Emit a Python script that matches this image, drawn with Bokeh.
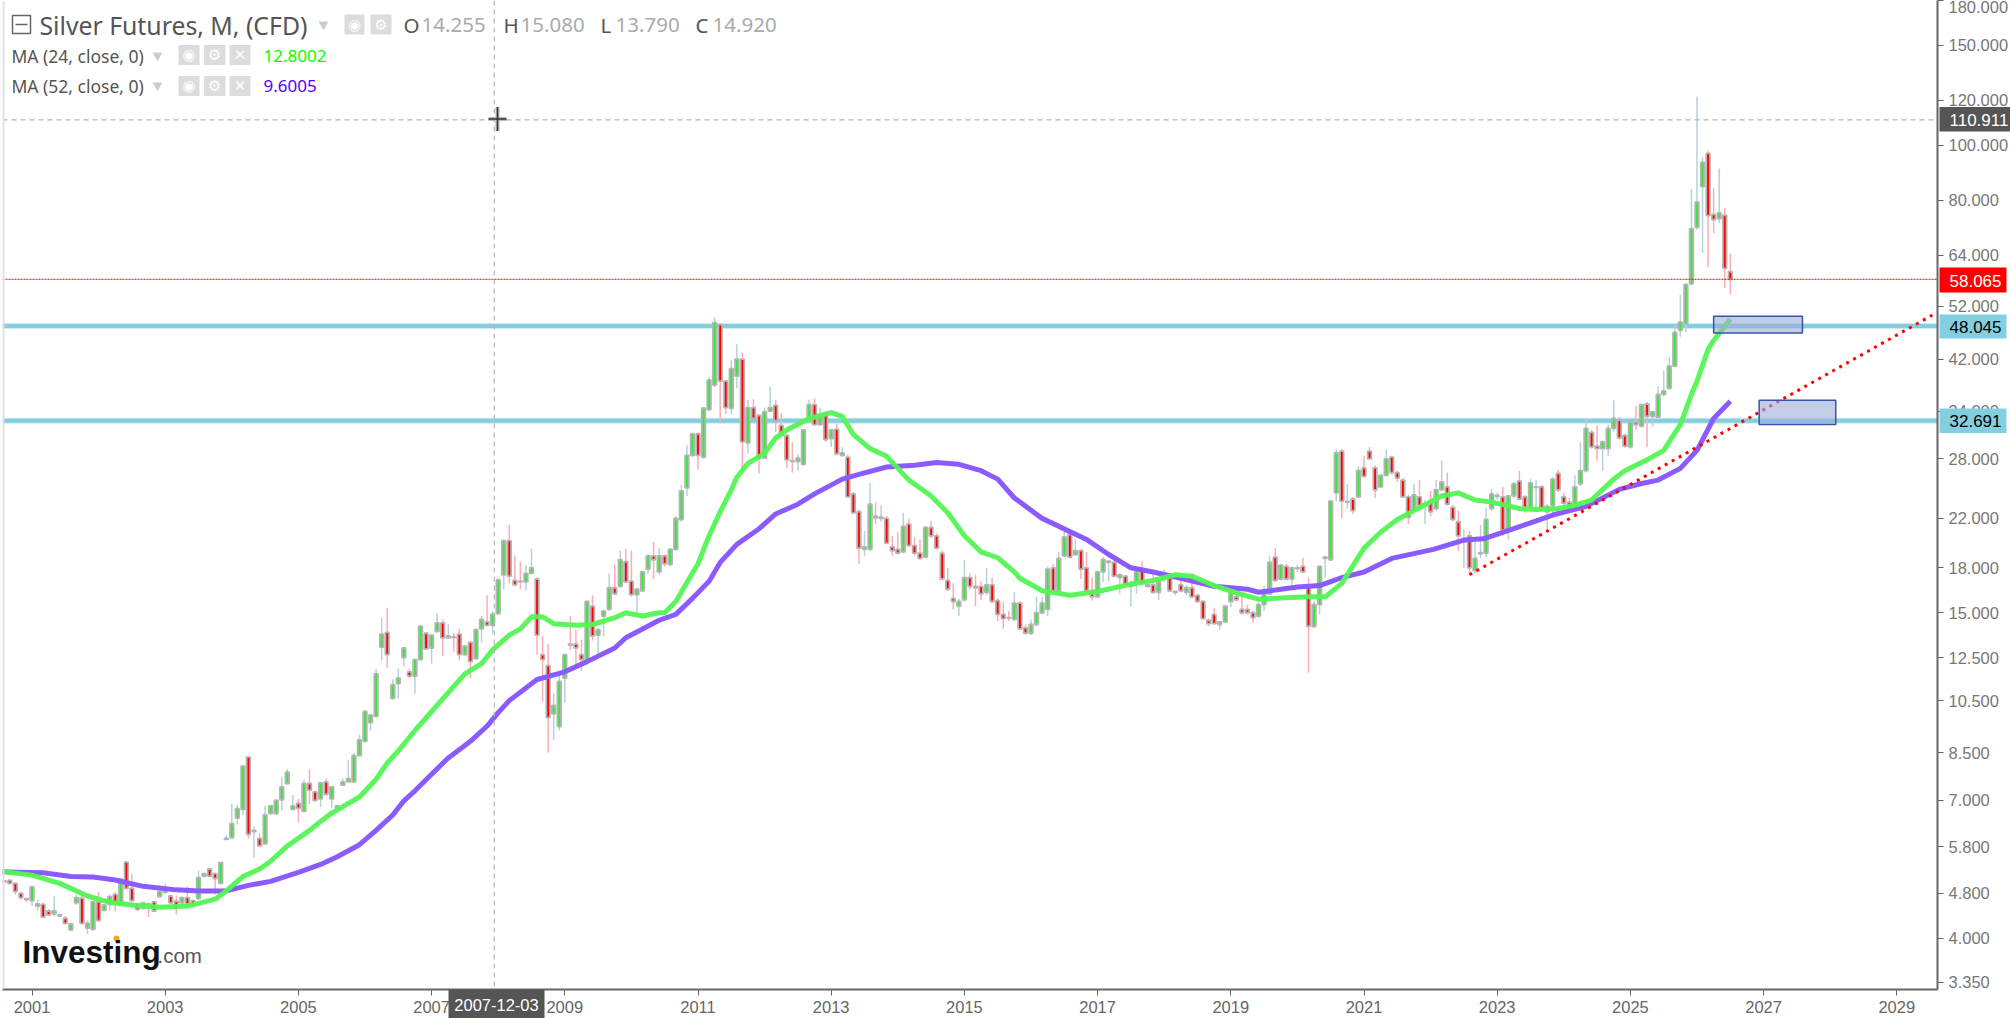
import math
from bokeh.plotting import figure
from bokeh.embed import file_html
from bokeh.resources import INLINE
from bokeh.layouts import column
from bokeh.models import Range1d, FixedTicker, Label, Span
from bokeh.models.labeling import AllLabels

# Monthly candles: first candle is 2000-08
opens = [5.05,5.06,5.0,4.8,4.7,4.66,4.56,4.59,4.47,4.42,4.40,4.34,4.14,4.62,4.71,4.17,4.15,4.64,4.48,4.59,
4.78,4.6,5.45,4.9,4.58,4.52,4.6,4.64,4.74,4.82,4.75,4.65,4.62,4.72,4.66,4.7,5.15,5.3,5.2,5.0,
5.98,6.02,6.52,6.75,8.35,6.17,6.0,5.87,6.64,6.64,7.02,7.5,6.75,6.92,6.7,7.5,7.25,7.05,7.55,7.05,
6.8,7.45,7.55,7.55,8.4,8.9,9.6,9.85,13.05,13.85,10.6,11.25,12.5,11.8,11.6,12.4,13.8,13,13.9,14.4,
13.55,13.6,13.75,12.65,13.3,12.45,14.05,14.45,14.255,14.95,17.5,20.1,17.1,17.05,17.0,17.6,17.2,12.65,12.1,9.95,
9.45,11.5,13.2,13.2,12.65,12.3,15.4,13.7,14.8,15.2,16.6,16.7,18.45,17.05,16.15,16.4,17.9,18.9,17.7,18.9,
18.25,19.4,21.9,24.9,28.4,31,28.2,34.2,37.8,48.3,38.4,34.4,39.2,42,29.9,34.5,33.4,28.1,34,34.8,
32.1,30.8,27.8,27.7,27.4,32.8,34.9,32.2,33.7,30.4,31.6,28.4,28.2,24.3,22.6,19.4,19.4,22.2,22,22,
19.6,19.4,19.2,21.5,19.7,19.1,18.8,21.2,20.5,19.1,17.1,15.9,15.4,15.8,17.3,16.7,16.7,16.3,16.8,15.75,
14.9,14.7,14.6,15.6,14.1,13.8,14.3,15,15.2,18,16.4,18.9,20.6,19,19.3,18,16.4,16,17.7,18.4,
18.4,17.3,17.4,16.7,16.9,17.95,16.7,16.8,16.3,17.2,17.4,16.3,16.8,16.3,16.6,16.1,15.7,14.55,14.9,14.3,
14.45,15.7,16,15.2,15.2,15,14.8,15.5,16.2,18.8,17.2,18.1,17.2,17.95,18.1,16.7,14.2,15.5,18.7,18.6,
24.4,28.9,23.5,23.8,24,27,28.9,27,25,26.2,28.2,26.5,25.7,24,22.7,24,23.3,23.6,22.9,24.7,
25,23,21.7,20,20.5,17.8,19.05,19.1,22.9,24.05,24,20.9,24.1,25.6,24,23,24.95,25,22.6,23.2,
26.4,24,23.5,23.2,25.3,26.7,31.2,29.5,29.2,29.2,31.7,32.8,30.8,29.4,32.5,32,35,33.3,33.2,36.4,
37.3,40.8,47.2,48.5,57,71.7,84.6,96.8,75.6,74.3,75.3,59.9]
highs = [5.07,5.08,5.02,4.83,4.72,4.95,4.68,4.62,4.5,4.75,4.42,4.38,4.26,4.78,4.78,4.3,4.66,4.83,4.6,4.78,
4.83,5.1,5.47,5.2,4.6,4.64,4.62,4.66,4.86,5.0,4.77,4.76,4.74,4.94,4.68,5.27,5.22,5.32,5.22,5.46,
6.08,6.9,6.88,8.08,8.38,6.3,6.12,6.85,6.88,7.03,7.7,7.95,7.15,7.05,7.6,7.95,7.28,7.55,7.65,7.42,
6.87,7.65,8.25,8.5,9.15,10.1,9.95,11.95,14.7,15.3,11.45,11.95,13.05,11.95,12.45,14.25,13.85,13.75,14.95,14.6,
14.3,13.8,14.05,13.15,13.35,14.05,14.8,16.1,15.08,17.2,20.2,21.45,18.95,18.45,18.2,19.45,17.3,13.65,13.2,10.8,
11.6,12.7,14.8,14.0,13.45,15.75,16.1,14.1,15.2,17.6,18.2,19.3,19.45,19.3,16.6,17.8,19.0,20,19.5,19,
19.5,22.2,25.2,29.6,31.2,31.2,34.6,39,49.8,48.6,38.6,41.8,44.6,43.1,35.6,35.7,33.6,34.5,37.5,35.6,
33.7,31,30,28.5,31.6,35.6,35.8,34.5,34,31.6,32.3,29.4,28.5,24.5,22.8,20.9,25.4,23.5,23.2,22.2,
20.5,20.8,22.5,22,20.4,20.2,21.3,21.8,20.7,19.3,18,16.9,15.9,18.6,17.6,17.5,17.05,18,17.3,15.9,
15.7,15.1,16.3,15.7,14.3,14.6,16,16,18.1,18.3,19.2,21.1,20.8,20.2,19.4,19.2,17.3,17.8,18.8,18.6,
18.7,17.6,17.5,17.1,18,18.5,16.9,17.6,17.1,17.9,17.6,16.4,17.6,16.8,17.6,16.2,15.75,14.6,15.3,14.5,
15.5,16.5,16.6,16.1,15.5,15.1,15.7,16.7,18.9,19.5,18.3,18.3,18.1,18.2,18.75,17.3,15.7,18.2,18.9,23.7,
29.1,29.1,25.3,24,27.2,28.3,29.4,27.3,26.4,29.1,28.4,26.7,25.9,24.2,25.3,25.7,23.7,24.6,25.7,27.8,
26.5,23.2,22.7,21,20.9,20,21.4,23,24.8,24.4,25,24.2,25.5,26.7,24.2,25.8,25.7,25.2,23.3,26,
26.8,24.4,23.9,26.2,30,32.8,31.5,32.1,30.2,32.2,35.5,33.2,31,32.6,34.7,35,35.3,34,37.6,40.1,
42.3,48.2,54.5,57.2,83.8,122,95.3,97.9,84,91,77.5,64.4]
lows = [5.02,4.98,4.78,4.68,4.64,4.56,4.48,4.35,4.38,4.37,4.36,4.23,4.12,4.58,4.23,4.07,4.13,4.28,4.46,4.48,
4.46,4.58,4.88,4.64,4.47,4.5,4.36,4.45,4.72,4.8,4.6,4.4,4.6,4.58,4.58,4.68,5.12,5.13,4.78,4.98,
5.96,5.98,6.35,6.6,6.0,5.55,5.8,5.85,6.62,6.62,6.72,7.48,6.73,6.4,6.68,6.9,6.98,6.82,7.15,6.8,
6.72,7.43,7.53,7.53,8.38,8.88,9.3,9.83,12.35,12.0,10.55,10.6,12.05,11.5,10.8,12.35,12.9,12.2,13.85,12.6,
13.5,12.8,12.35,12.6,11.5,12.4,13.3,14.2,13.79,14.9,16.5,16.9,16.7,16.5,16.4,17.55,12.65,10.45,8.5,8.95,
9.3,10.4,12.9,11.95,11.85,12.2,13.4,12.45,13.65,15.1,16.1,16.6,16.9,16.0,14.95,16.3,17.6,17.2,17.5,18.1,
18.1,19.3,21.7,24.1,28.2,26.8,28,34,37.5,32.5,33.6,33.6,37.3,26.5,28.65,32.9,26.4,28,33.9,31.2,
30.7,27,26.5,26.7,27.3,32.6,32,32,30,29.4,28.4,28.2,23.9,22.4,18.3,18.9,19.3,21.5,21.7,19.8,
18.9,19,19.1,19.6,18.9,18.6,18.7,20.3,19.4,17.1,16.4,15.2,14.8,15.7,16.5,15.4,15.8,16.1,15.6,14.5,
14.05,14.5,14.5,14,13.75,13.7,14.2,14.95,14.8,16.3,16.3,18.8,18.7,18.9,17.2,16.3,15.75,15.9,17.0,17,
17.3,16.2,16.7,15.4,16.2,16.8,16.6,16.2,15.8,17,16.3,16.1,16.3,16.1,15.9,15.6,14.6,14.2,14.3,14,
14.4,15.35,15.7,14.9,14.9,14.4,14.7,15.1,16.1,17,17.1,17.1,16.8,17.7,17.6,11.75,14.1,14.9,17.3,18.5,
23.6,22,22.9,22.4,23.9,26,27.9,23.9,24.9,26.1,26.3,25.5,23.9,21.5,22.6,23,21.5,22.2,22.7,24.6,
23.2,21.8,19.3,18,17.5,17.6,18.7,18.8,22.7,23.7,20.5,20.2,23.9,23.7,22.5,22.9,22.7,22.8,20.8,22.5,
24.5,22.5,22.5,23.1,25.1,26.5,29.2,27.8,26.7,28.3,31.3,30.3,29.3,29.2,31.5,31.8,29.4,31.9,33.1,36.1,
37.1,40.6,46,46.9,56.8,71,64.6,61,70,73,56.1,54.7]
closes = [5.03,5.0,4.84,4.72,4.68,4.93,4.6,4.36,4.4,4.47,4.38,4.25,4.24,4.72,4.25,4.25,4.64,4.3,4.58,4.74,
4.62,5.08,4.9,4.66,4.5,4.62,4.59,4.47,4.84,4.9,4.62,4.52,4.72,4.6,4.6,5.12,5.2,5.15,5.1,5.44,
6.0,6.37,6.77,8.05,6.1,6.2,5.82,6.6,6.85,7.0,7.4,7.85,6.85,6.78,7.5,7.3,7.0,7.52,7.18,7.4,
6.85,7.55,7.65,8.4,8.95,10.05,9.9,11.7,13.75,12.65,11.2,11.5,13,11.6,12.4,14.2,12.95,13.7,14.4,13.55,
13.65,13.58,12.65,13.1,12.3,14,14.6,14.25,14.92,17.15,20.1,17.4,16.8,17.0,17.6,18,13.7,12.4,9.8,10.3,
11.35,12.65,13.15,13.0,12.4,15.7,13.65,14,15.1,16.6,16.2,18.6,17,16.15,16.5,17.7,18.9,18.6,18.9,18.3,
19.4,22,24.6,28.4,31,28.4,34.4,38.6,48.7,38.4,34.5,40.4,42,30,34.5,33,28.1,33.9,34.5,32.7,
30.8,27.9,27.72,28.1,31.5,34.9,32.2,33.2,30.3,31.5,28.6,28.7,24,22.5,19.5,19.6,23.3,22.05,22.1,19.9,
19.3,19.1,21.3,19.7,19.1,18.7,21.2,20.5,19.5,17.2,16.5,15.7,15.7,17.3,16.7,16.6,16.2,16.8,15.7,14.9,
14.65,14.68,15.6,14.05,13.8,14.3,15,15.6,17.9,16.4,18.7,20.4,18.8,19.3,17.9,16.4,16,17.7,18.6,18.5,
17.4,17.5,16.8,16.9,17.7,16.9,16.8,16.3,17,17.3,16.4,16.35,16.4,16.6,16,15.7,14.65,14.35,14.35,14.45,
15.4,16.4,15.8,15,15,14.7,15.5,16.4,18.4,17.1,18.2,17.2,18,18,17.7,14.2,15.5,18.1,18.8,23.6,
28.7,23.6,23.55,22.7,26.7,26.1,28,24.7,26.2,28,26.5,25.9,24,22.1,24.2,23.2,23.35,22.6,24.7,25.5,
23.3,21.9,20.5,20.05,18,18.7,19.15,21.9,24.3,24.15,21,24.1,25.3,23.8,23,25.4,25,22.9,23.1,25.8,
24.7,23.4,23,25,26.7,31.7,29.4,29.2,30,31.7,33,30.5,29.5,32.5,32.2,34.9,33.3,33.9,36.4,36.9,
40.85,46.8,48.8,56.8,71.3,79.4,93.3,75.2,74,76,60.7,58.065]

# Moving averages: candle number and value
ma52_idx = [-0.4,2.3,7,12,16,20,25,31,35,40,44,48,53,57,60,64,67,70,72,74,77,80,84,87,89,91,96,101,105,110,112,118,121,124,127,129,132,136,139,143,146,151,154,159,164,168,172,176,179,182,187,195,199,203,207,212,218,224,226,233,237,241,245,250,257.5,263,266.5,272,279,285,291,295,298,302,305,308,311]
ma52_val = [5.24,5.23,5.22,5.14,5.13,5.07,4.94,4.87,4.85,4.85,4.96,5.04,5.23,5.4,5.57,5.85,6.2,6.6,6.99,7.28,7.79,8.32,8.9,9.47,10.0,10.5,11.44,11.8,12.3,13,13.55,14.55,14.9,15.9,17.05,18.4,19.8,21.1,22.4,23.3,24.3,25.8,26.3,27.1,27.3,27.6,27.4,26.7,25.8,23.9,22,20.2,19,18,17.7,17.25,16.7,16.5,16.3,16.65,16.75,17.3,17.7,18.7,19.4,20.15,20.25,21.1,22.3,23.1,24.75,25.35,25.7,26.95,29.0,33.0,35.4]
ma24_idx = [0,5,10,15,19,23,28,33,38,40,43,46,48,51,55,57,59,64,67,69,71,74,79,83,86,88,91,93,95,97,99,103,106,110,112,115,118,119,121,125,127,129,131,132,134,137,139,141,145,149,151,153,156,159,163,167,170,173,176,179,182,183,187,192,197,203,207,211,214,218,223,226,232,235,238,241,245,248,251,254,259,262,265,268,273,276,280,283,286,290,292,296,299,302,304,305,307,308,311]
ma24_val = [5.24,5.17,5.0,4.75,4.63,4.58,4.54,4.56,4.69,4.85,5.14,5.3,5.47,5.82,6.2,6.43,6.65,7.1,7.63,8.15,8.56,9.3,10.57,11.7,12.2,12.9,13.7,14.05,14.75,14.75,14.35,14.25,14.3,14.7,15.0,14.8,15,15,15.7,18.3,20.5,22.6,24.7,26,27.5,28.65,30.5,31.5,33,33.8,33.3,30.9,29.2,28.3,25.7,24.1,22.5,20.5,19.2,18.75,17.7,17.25,16.4,16.1,16.35,16.85,17.1,17.5,17.4,16.75,16.15,15.85,15.95,16,16,16.9,19.5,20.8,21.9,22.7,24.1,24.4,23.7,23.5,22.9,22.8,22.9,23.2,23.7,25.8,26.7,27.9,29,32.2,36.4,38.4,43.7,45.3,49.4]

level_values = [48.045, 32.691]
last_price = 58.065
cursor_price = 110.911
trend_idx = [264, 347.4]
trend_val = [17.5, 50.2]
box1_idx = [308.0, 324.0]
box1_val = [46.7, 50.0]
box2_idx = [316.2, 330.0]
box2_val = [32.2, 35.55]
cursor_idx = 88.3

y_ticks = [180,150,120,100,80,64,52,42,34,28,22,18,15,12.5,10.5,8.5,7,5.8,4.8,4,3.35]
x_ticks = [2001,2003,2005,2007,2009,2011,2013,2015,2017,2019,2021,2023,2025,2027,2029]

def year(i):
    return 2001 + (i - 5) / 12.0
def xv(px):
    return 2001 + (px - 31.5) / 66.6

n = min(len(opens), len(highs), len(lows), len(closes))
xs = [year(i) for i in range(n)]
up = [i for i in range(n) if closes[i] >= opens[i]]
dn = [i for i in range(n) if closes[i] < opens[i]]

p = figure(width=2010, height=1018, frame_width=1935, frame_height=989,
           x_range=Range1d(xv(2), xv(1937)), y_range=Range1d(3.25, 180.05),
           y_axis_type="log", y_axis_location="right", x_axis_location="below",
           toolbar_location=None, output_backend="svg",
           min_border_left=2, min_border_top=0, min_border_right=73, min_border_bottom=29,
           background_fill_color="white", border_fill_color="white",
           outline_line_color=None)
p.grid.visible = False

yaxis = p.yaxis[0]
yaxis.ticker = FixedTicker(ticks=y_ticks)
yaxis.major_label_overrides = {t: f"{t:.3f}" for t in y_ticks}
yaxis.major_label_policy = AllLabels()
yaxis.axis_line_color = "#666666"
yaxis.axis_line_width = 2
yaxis.major_tick_line_color = "#666666"
yaxis.major_tick_line_width = 1
yaxis.major_tick_out = 6
yaxis.major_tick_in = 0
yaxis.minor_tick_line_color = None
yaxis.major_label_text_font = "Liberation Sans"
yaxis.major_label_text_font_size = "16.5px"
yaxis.major_label_text_color = "#777777"
yaxis.major_label_standoff = 5

xaxis = p.xaxis[0]
xaxis.ticker = FixedTicker(ticks=x_ticks)
xaxis.major_label_overrides = {t: str(t) for t in x_ticks}
xaxis.axis_line_color = "#666666"
xaxis.axis_line_width = 2
xaxis.major_tick_line_color = "#666666"
xaxis.major_tick_out = 6
xaxis.major_tick_in = 0
xaxis.minor_tick_line_color = None
xaxis.major_label_text_font = "Liberation Sans"
xaxis.major_label_text_font_size = "16.5px"
xaxis.major_label_text_color = "#666666"
xaxis.major_label_standoff = 5

# key levels behind the candles
for lv in level_values:
    p.add_layout(Span(location=lv, dimension="width", line_color="#cfeaf1", line_width=6, level="underlay"))
    p.add_layout(Span(location=lv, dimension="width", line_color="#84cfdf", line_width=4, level="underlay"))

# wicks + bodies
UPW, DNW = "#b3d2dc", "#f9aeb6"
p.segment([xs[i] for i in up], [highs[i] for i in up], [xs[i] for i in up], [lows[i] for i in up],
          line_color=UPW, line_width=1.5)
p.segment([xs[i] for i in dn], [highs[i] for i in dn], [xs[i] for i in dn], [lows[i] for i in dn],
          line_color=DNW, line_width=1.5)
W = 3.6 / 66.6
p.vbar([xs[i] for i in up], W, [opens[i] for i in up], [closes[i] for i in up],
       fill_color="#35ea35", line_color="#b4b4b4", line_width=1.8)
p.vbar([xs[i] for i in dn], W, [closes[i] for i in dn], [opens[i] for i in dn],
       fill_color="#ff0000", line_color="#b4b4b4", line_width=1.8)

# moving averages
p.line([year(i) for i in ma52_idx], ma52_val, line_color="#8a5cff", line_width=5, line_join="round")
p.line([year(i) for i in ma24_idx], ma24_val, line_color="#52f552", line_width=5, line_join="round", line_alpha=0.95)

# trend line
p.line([year(i) for i in trend_idx], trend_val, line_color="#ff0000", line_width=3, line_dash="3 5")

# rectangles
for bi, bv in ((box1_idx, box1_val), (box2_idx, box2_val)):
    p.quad(left=[year(bi[0])], right=[year(bi[1])], bottom=[bv[0]], top=[bv[1]],
           fill_color="#9dabd8", fill_alpha=0.6, line_color="#3355aa", line_width=1.5)

# last price & cursor
p.add_layout(Span(location=last_price, dimension="width", line_color="#ff0000", line_width=1, line_dash="2 1"))
p.add_layout(Span(location=cursor_price, dimension="width", line_color="#b4b4b4", line_width=1.2, line_dash="5 4"))
p.add_layout(Span(location=year(cursor_idx), dimension="height", line_color="#b4b4b4", line_width=1.2, line_dash="5 4"))

# ---- overlay for header, price tags, logo (page pixels) ----
q = figure(width=2010, height=1018, frame_width=2010, frame_height=1018,
           x_range=Range1d(0, 2010), y_range=Range1d(1018, 0),
           x_axis_type=None, y_axis_type=None, toolbar_location=None, output_backend="svg",
           min_border=0, outline_line_color=None,
           background_fill_alpha=0, border_fill_alpha=0, margin=(-1018, 0, 0, 0))
q.grid.visible = False

def txt(t, px, py, size, color, font="Noto Sans", style="normal", align="left"):
    q.add_layout(Label(x=px, y=py, text=t, text_font=font, text_font_size=f"{size}px",
                       text_color=color, text_font_style=style, text_align=align, text_baseline="middle"))
def box(x0, x1, y0, y1, color, line=None):
    q.quad(left=[x0], right=[x1], top=[y0], bottom=[y1], fill_color=color, line_color=line)

# left edge line
q.segment([1], [0], [1], [988], line_color="#dde0ea", line_width=2)

# mouse cursor cross
cx, cy = 495, 118.5
q.segment([cx-9, cx], [cy, cy-12], [cx+9, cx], [cy, cy+12], line_color="#b8b8b8", line_width=4)
q.segment([cx-9, cx], [cy, cy-12], [cx+9, cx], [cy, cy+12], line_color="#333333", line_width=1.5)

# price tags
for tag, y0, y1, bg, fg, right in (("110.911", 106.5, 131, "#555555", "#ffffff", 2010),
                                   ("58.065", 267, 292, "#ff0000", "#ffffff", 2004),
                                   ("48.045", 314, 338, "#84cfdf", "#000000", 2004),
                                   ("32.691", 408, 432.5, "#84cfdf", "#000000", 2004)):
    box(1937, right, y0, y1, bg)
    txt(tag, 1947, (y0 + y1) / 2 + 0.5, 17, fg, "Liberation Sans")
box(446, 542, 989, 1018, "#555555")
txt("2007-12-03", 494, 1004, 16.5, "#ffffff", "Liberation Sans", align="center")

# header
FONT = "Noto Sans"
txt("Silver Futures, M, (CFD)", 37, 24.5, 24.8, "#555555", FONT)
for t, x, c in (("O", 401, "#555555"), ("14.255", 419, "#aaaaaa"), ("H", 501, "#555555"), ("15.080", 518, "#aaaaaa"),
                ("L", 598, "#555555"), ("13.790", 613, "#aaaaaa"), ("C", 693, "#555555"), ("14.920", 710, "#aaaaaa")):
    txt(t, x, 24.5, 20.5, c, FONT)
txt("MA (24, close, 0)", 9, 55, 17.5, "#555555", FONT)
txt("MA (52, close, 0)", 9, 85.5, 17.5, "#555555", FONT)
txt("12.8002", 261, 55, 17, "#00ff00", FONT)
txt("9.6005", 261, 85.5, 17, "#5500ff", FONT)

# collapse box
q.quad(left=[10], right=[28], top=[15], bottom=[33], fill_color="white", line_color="#666666", line_width=1.5)
q.segment([13], [24], [25], [24], line_color="#666666", line_width=1.5)

# header icons
boxes = [(342, 362, 14, 34, "◉"), (368, 389, 14, 34, "⚙"),
         (176, 197, 44.5, 64.5, "◉"), (201.5, 223, 44.5, 64.5, "⚙"), (227, 248, 44.5, 64.5, "✕"),
         (176, 197, 75.5, 95.5, "◉"), (201.5, 223, 75.5, 95.5, "⚙"), (227, 248, 75.5, 95.5, "✕")]
for x0, x1, y0, y1, g in boxes:
    box(x0, x1, y0, y1, "#dcdcdc")
    txt(g, (x0 + x1) / 2, (y0 + y1) / 2, 15, "#ffffff", "DejaVu Sans", align="center")
q.scatter([321, 155, 155], [24, 55, 85], marker="inverted_triangle", size=10,
          fill_color="#cccccc", line_color=None)

# logo
txt("Investing", 20, 951, 31.5, "#111111", "Liberation Sans", style="bold")
txt(".com", 155, 955, 20.5, "#555555", "Liberation Sans")
q.scatter([114], [938], size=6, fill_color="#f7a21b", line_color=None)

open("out.html", "w").write(file_html(column(p, q, spacing=0), INLINE))
